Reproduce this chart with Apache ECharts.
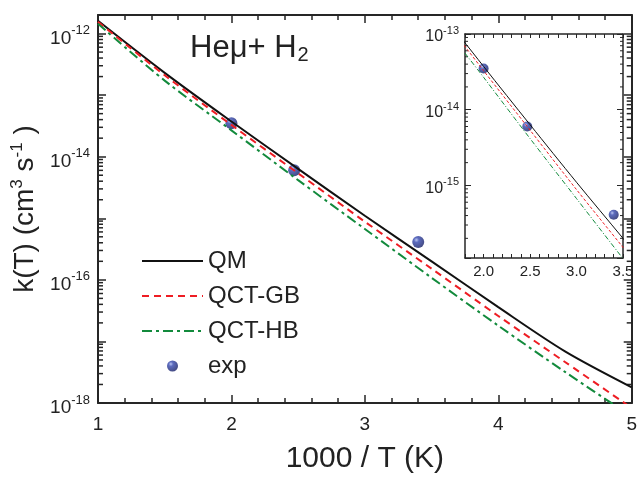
<!DOCTYPE html>
<html>
<head>
<meta charset="utf-8">
<script src="https://cdn.jsdelivr.net/npm/echarts@6/dist/echarts.min.js"></script>
<style>
    html, body { margin: 0; padding: 0; background: #fff; }
    #chart { width: 640px; height: 479px; }
</style>
</head>
<body>
<div id="chart"></div>
<script>
    // 1000/T grid and rate constants
    const invT = [1.0, 1.5, 2.0, 2.5, 3.0, 3.5, 4.0, 4.5, 5.0]
    const kQM = [1.61e-12, 2.3e-13, 3.73e-14, 6.34e-15, 1.10e-15, 2.0e-16, 3.6e-17, 6.9e-18, 1.8e-18]
    const kGB = [1.55e-12, 2.1e-13, 3.28e-14, 5.37e-15, 8.8e-16, 1.52e-16, 2.59e-17, 4.64e-18, 8.3e-19]
    const kHB = [1.44e-12, 1.72e-13, 2.68e-14, 4.16e-15, 6.7e-16, 1.08e-16, 1.8e-17, 3.2e-18, 6.0e-19]
    const expX = [2.0, 2.47, 3.4]
    const expK = [3.5e-14, 6.0e-15, 4.1e-16]
    const minorMant = [2, 3, 4, 5, 6, 7, 8, 9]   // log minor ticks per decade

    const FONT = 'Liberation Sans'
    const AX = '#262626'

    function pairs(xs, ys) {
        return xs.map((x, i) => [x, ys[i]])
    }

    function logMinorTicks(lo, hi, x0) {
        let out = []
        for (let e = Math.floor(Math.log10(lo)); e <= Math.ceil(Math.log10(hi)); e++) {
            minorMant.forEach(m => {
                let v = m * Math.pow(10, e)
                if (v > lo && v < hi) out.push([x0, v])
            })
        }
        return out
    }

    function supLabel(evenOnly) {
        return function (v) {
            let e = Math.log10(v)
            let n = Math.round(e)
            if (Math.abs(e - n) > 1e-6) return ''
            if (evenOnly && n % 2 !== 0) return ''
            return '{a|10}{s|' + n + '}'
        }
    }

    function minorTickSeries(xi, yi, data, len, w) {
        return {
            type: 'custom',
            xAxisIndex: xi,
            yAxisIndex: yi,
            silent: true,
            data: data,
            renderItem: function (params, api) {
                let cs = params.coordSys
                let y = api.coord([api.value(0), api.value(1)])[1]
                let st = { stroke: AX, lineWidth: w }
                return {
                    type: 'group',
                    children: [
                        { type: 'line', shape: { x1: cs.x, y1: y, x2: cs.x + len, y2: y }, style: st },
                        { type: 'line', shape: { x1: cs.x + cs.width - len, y1: y, x2: cs.x + cs.width, y2: y }, style: st }
                    ]
                }
            }
        }
    }

    const sphere = {
        type: 'radial', x: 0.35, y: 0.32, r: 0.7,
        colorStops: [
            { offset: 0, color: '#a9b6ee' },
            { offset: 0.3, color: '#3447ae' },
            { offset: 1, color: '#161f66' }
        ]
    }

    let mainX = {
        type: 'value', gridIndex: 0, min: 1, max: 5, interval: 1,
        axisLine: { lineStyle: { color: AX, width: 2 } },
        axisTick: { inside: true, length: 8, lineStyle: { color: AX, width: 1.5 } },
        minorTick: { show: true, splitNumber: 5, length: 5, lineStyle: { color: AX, width: 1.5 } },
        splitLine: { show: false },
        axisLabel: { fontSize: 19, margin: 12, color: '#222', fontFamily: FONT }
    }
    let mainY = {
        type: 'log', logBase: 10, gridIndex: 0, min: 1e-18, max: 2e-12,
        axisLine: { show: true, lineStyle: { color: AX, width: 2 } },
        axisTick: { show: true, inside: true, length: 8, lineStyle: { color: AX, width: 1.5 } },
        splitLine: { show: false },
        axisLabel: {
            formatter: supLabel(true), margin: 8, color: '#222',
            rich: {
                a: { fontSize: 19, fontFamily: FONT, color: '#222', padding: [10, 0, 0, 0] },
                s: { fontSize: 13, fontFamily: FONT, color: '#222', padding: [0, 0, 6, 0] }
            }
        }
    }
    let insetX = {
        type: 'value', gridIndex: 1, min: 1.8, max: 3.5, interval: 0.1,
        axisLine: { lineStyle: { color: AX, width: 1.5 } },
        axisTick: { inside: true, length: 4, lineStyle: { color: AX, width: 1 } },
        splitLine: { show: false },
        axisLabel: {
            fontSize: 15, margin: 6, color: '#222', fontFamily: FONT,
            formatter: function (v) {
                let r = Math.round(v * 10)
                return r % 5 === 0 ? (r / 10).toFixed(1) : ''
            }
        }
    }
    let insetY = {
        type: 'log', logBase: 10, gridIndex: 1, min: 1.1e-16, max: 1e-13,
        axisLine: { show: true, lineStyle: { color: AX, width: 1.5 } },
        axisTick: { show: true, inside: true, length: 6, lineStyle: { color: AX, width: 1 } },
        splitLine: { show: false },
        axisLabel: {
            formatter: supLabel(false), margin: 6, color: '#222',
            rich: {
                a: { fontSize: 16, fontFamily: FONT, color: '#222', padding: [6, 0, 0, 0] },
                s: { fontSize: 11, fontFamily: FONT, color: '#222', padding: [0, 0, 6, 0] }
            }
        }
    }

    function noLabels(ax, pos) {
        return Object.assign({}, ax, { position: pos, axisLabel: { show: false }, name: '' })
    }

    let hideSym = { opacity: 0, borderWidth: 0 }

    let option = {
        animation: false,
        textStyle: { fontFamily: FONT },
        grid: [
            { left: 98, right: 8, top: 15, bottom: 67 },
            { left: 465, top: 34, width: 158, height: 224 }
        ],
        xAxis: [
            Object.assign({}, mainX, {
                position: 'bottom',
                name: '1000 / T (K)', nameLocation: 'middle', nameGap: 41,
                nameTextStyle: { fontSize: 30, color: '#222', fontFamily: FONT }
            }),
            noLabels(mainX, 'top'),
            Object.assign({}, insetX, { position: 'bottom' }),
            noLabels(insetX, 'top')
        ],
        yAxis: [
            Object.assign({}, mainY, {
                position: 'left',
                name: '{a|k(T) (cm}{s|3}{a| s}{s|-1}{a| )}',
                nameLocation: 'middle', nameRotate: 90, nameGap: 54,
                nameTextStyle: {
                    rich: {
                        a: { fontSize: 28, fontFamily: FONT, color: '#222' },
                        s: { fontSize: 17, fontFamily: FONT, color: '#222', padding: [0, 0, 16, 0] }
                    }
                }
            }),
            noLabels(mainY, 'right'),
            Object.assign({}, insetY, { position: 'left' }),
            noLabels(insetY, 'right')
        ],
        legend: {
            orient: 'vertical', left: 136, top: 244,
            itemWidth: 61, itemHeight: 11, itemGap: 11,
            selectedMode: false,
            data: [
                { name: 'QM', itemStyle: hideSym },
                { name: 'QCT-GB', itemStyle: hideSym },
                { name: 'QCT-HB', itemStyle: hideSym },
                { name: 'exp', icon: 'circle' }
            ],
            textStyle: { fontSize: 24, color: '#222', fontFamily: FONT, padding: [0, 0, 0, 0] }
        },
        graphic: [
            {
                type: 'text', left: 190, top: 33,
                style: {
                    text: '{a|Heμ+ H}{b|2}',
                    rich: {
                        a: { fontSize: 31, fontFamily: FONT, fill: '#222' },
                        b: { fontSize: 20, fontFamily: FONT, fill: '#222', padding: [13, 0, 0, 1] }
                    }
                }
            }
        ],
        series: [
            { name: 'QM', type: 'line', xAxisIndex: 0, yAxisIndex: 0, data: pairs(invT, kQM), symbol: 'none', smooth: 0.3,
              lineStyle: { color: '#111', width: 2 }, itemStyle: { color: '#111' } },
            { name: 'QCT-GB', type: 'line', xAxisIndex: 0, yAxisIndex: 0, data: pairs(invT, kGB), symbol: 'none', smooth: 0.3,
              lineStyle: { color: '#ee1d23', width: 2, type: [7, 5] }, itemStyle: { color: '#ee1d23' } },
            { name: 'QCT-HB', type: 'line', xAxisIndex: 0, yAxisIndex: 0, data: pairs(invT, kHB), symbol: 'none', smooth: 0.3,
              lineStyle: { color: '#128a3c', width: 2, type: [10, 4, 3, 4] }, itemStyle: { color: '#128a3c' } },
            { name: 'exp', type: 'scatter', xAxisIndex: 0, yAxisIndex: 0, data: pairs(expX, expK),
              symbol: 'circle', symbolSize: 12, itemStyle: { color: sphere } },

            { name: 'QM', type: 'line', xAxisIndex: 2, yAxisIndex: 2, data: pairs(invT, kQM), symbol: 'none', smooth: 0.3,
              lineStyle: { color: '#111', width: 1 } },
            { name: 'QCT-GB', type: 'line', xAxisIndex: 2, yAxisIndex: 2, data: pairs(invT, kGB), symbol: 'none', smooth: 0.3,
              lineStyle: { color: '#ee1d23', width: 1, type: [3, 2] } },
            { name: 'QCT-HB', type: 'line', xAxisIndex: 2, yAxisIndex: 2, data: pairs(invT, kHB), symbol: 'none', smooth: 0.3,
              lineStyle: { color: '#128a3c', width: 1, type: [5, 2, 1, 2] } },
            { name: 'exp', type: 'scatter', xAxisIndex: 2, yAxisIndex: 2, data: pairs(expX, expK),
              symbol: 'circle', symbolSize: 10, itemStyle: { color: sphere } },

            minorTickSeries(0, 0, logMinorTicks(1e-18, 2e-12, 1), 5, 1.5),
            minorTickSeries(2, 2, logMinorTicks(1.1e-16, 1e-13, 1.8), 3, 1)
        ]
    }

    let mychart = echarts.init(document.getElementById('chart'))
    mychart.setOption(option)
</script>
</body>
</html>
